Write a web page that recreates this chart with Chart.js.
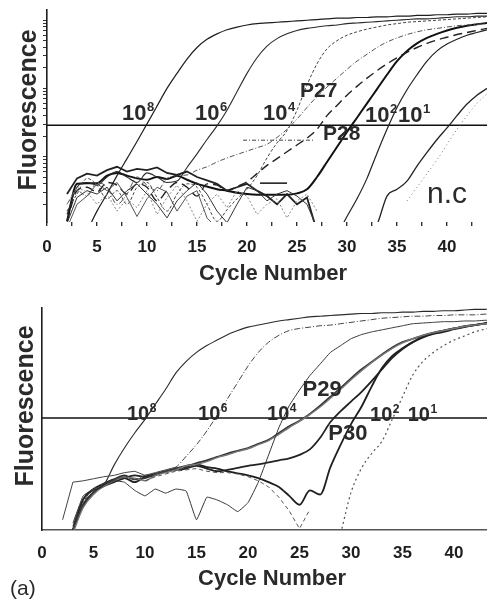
<!DOCTYPE html>
<html>
<head>
<meta charset="utf-8">
<script src="https://cdn.jsdelivr.net/npm/chart.js@4.4.1/dist/chart.umd.min.js"></script>
<style>
  html, body { margin: 0; padding: 0; background: #fff; }
  #wrap { position: relative; width: 487px; height: 601px; overflow: hidden; }
  .panel { position: absolute; left: 0; }
</style>
</head>
<body>
<div id="wrap">
  <div class="panel" style="top:0"><canvas id="topChart" width="487" height="300"></canvas></div>
  <div class="panel" style="top:300px"><canvas id="botChart" width="487" height="301"></canvas></div>
</div>
<script>
// ---------- DATA (y values are log10 fluorescence) ----------
const cycles = [1,2,3,4,5,6,7,8,9,10,11,12,13,14,15,16,17,18,19,20,21,22,23,24,25,26,27,28,29,30,31,32,33,34,35,36,37,38,39,40,41,42,43,44];
const xTickLabels = ['0','5','10','15','20','25','30','35','40'];

// Top panel
const topStd1e8 = [null,null,null,-0.1,0.2,0.45,0.72,0.97,1.22,1.48, 1.74,2.0,2.22,2.43,2.6,2.72,2.8,2.86,2.9,2.93, 2.95,2.96,2.97,2.98,2.99,3.0,3.01,3.02,3.03,3.03, 3.04,3.04,3.05,3.05,3.06,3.06,3.07,3.07,3.08,3.08, 3.09,3.09,3.1,3.1];
const topStd1e6 = [null,0.15,0.55,0.62,0.58,0.7,0.78,0.7,0.62,0.76, 0.7,0.62,0.64,0.84,1.04,1.25,1.45,1.68,1.95,2.22, 2.45,2.62,2.73,2.8,2.85,2.88,2.9,2.92,2.93,2.95, 2.96,2.97,2.98,2.99,3.0,3.01,3.02,3.02,3.03,3.04, 3.05,3.05,3.06,3.06];
const topStd1e4 = [null,0.2,0.45,0.68,0.58,0.38,0.5,0.3,0.55,0.62, 0.4,0.2,0.45,0.6,0.55,0.3,0.05,0.22,0.38,0.52, 0.72,0.98,1.2,1.38,1.68,2.05,2.36,2.58,2.7,2.78, 2.83,2.87,2.9,2.93,2.95,2.97,2.98,2.99,3.0,3.01, 3.02,3.03,3.04,3.05];
const topStd1e4b = [null,0.3,0.5,0.42,0.62,0.55,0.3,0.45,0.7,0.58, 0.5,0.68,0.72,0.73,0.8,0.85,0.92,0.98,1.03,1.08, 1.13,1.18,1.28,1.4,1.55,1.72,1.88,2.02,2.15,2.28, 2.4,2.5,2.6,2.68,2.74,2.79,2.83,2.86,2.88,2.9, 2.92,2.93,2.94,2.95];
const topP27 = [null,0.05,0.5,0.55,0.48,0.62,0.58,0.45,0.6,0.55, 0.35,0.5,0.62,0.55,0.42,0.6,0.58,0.5,0.56,0.63, 0.75,0.87,0.97,1.07,1.17,1.27,1.4,1.6,1.75,1.9, 2.03,2.15,2.26,2.36,2.45,2.53,2.6,2.66,2.71,2.75, 2.79,2.82,2.85,2.88];
const topP28 = [null,0.05,0.6,0.61,0.61,0.72,0.76,0.72,0.68,0.66, 0.7,0.67,0.72,0.66,0.6,0.56,0.52,0.5,0.47,0.45, 0.44,0.44,0.44,0.44,0.46,0.52,0.7,0.92,1.14,1.36, 1.57,1.78,1.99,2.2,2.4,2.55,2.66,2.74,2.8,2.85, 2.89,2.92,2.94,2.96];
const topStd1e2 = [null,null,null,null,null,null,null,null,null,null, null,null,null,null,null,null,null,null,null,null, null,null,null,null,null,null,null,null,-0.15,0.12, 0.38,0.68,1.05,1.4,1.72,1.98,2.2,2.4,2.55,2.65, 2.72,2.78,2.82,2.86];
const topStd1e1 = [null,null,null,null,null,null,null,null,null,null, null,null,null,null,null,null,null,null,null,null, null,null,null,null,null,null,null,null,null,null, null,-0.2,0.0,0.42,0.52,0.64,0.86,1.06,1.25,1.42, 1.6,1.77,1.9,2.0];
const topStd1e1b = [null,null,null,null,null,null,null,null,null,null, null,null,null,null,null,null,null,null,null,null, null,null,null,null,null,null,null,null,null,null, null,null,null,null,null,0.35,0.55,0.75,0.95,1.18, 1.4,1.6,1.78,1.92];
const topNc1 = [null,0.02,0.4,0.5,0.45,0.55,0.35,0.5,0.6,0.45, 0.3,0.1,0.35,0.5,0.62,0.45,0.2,0.03,0.3,0.55, 0.5,0.35,0.45,0.5,0.42,0.3,-0.05];
const topNc2 = [null,0.3,0.55,0.48,0.3,0.45,0.2,0.38,0.25,0.5, 0.15,0.4,0.58,0.35,0.05,0.3,0.45,0.25,0.5,0.42, 0.15,0.3,0.38,0.1,0.35,0.45,0.2];
const topNc3 = [null,0.45,0.68,0.75,0.72,0.8,0.85,0.78,0.82,0.8, 0.84,0.76,0.73,0.78,0.7,0.65,0.6,0.5,0.55,0.6, 0.5,0.42,0.3,0.45,0.3,0.4,-0.1];
const topNc4 = [null,-0.05,0.3,0.42,0.6,0.5,0.62,0.4,0.12,0.38, 0.55,0.48,0.2,0.42,0.5,0.1,-0.05];
const topMarkDashX = [19.6, 26.6];
const topMarkDashY = [1.24, 1.24];
const topMarkSolidX = [21.3, 24.0];
const topMarkSolidY = [0.61, 0.61];
const thresholdTop = 1.46;

// Bottom panel
const botStd1e8 = [null,null,0.05,0.45,0.58,0.66,0.95,1.2,1.42,1.62, 1.84,2.06,2.3,2.47,2.6,2.7,2.78,2.86,2.92,2.97, 3.0,3.03,3.06,3.08,3.1,3.12,3.13,3.14,3.15,3.16, 3.17,3.17,3.18,3.18,3.19,3.19,3.2,3.2,3.21,3.21, 3.22,3.23,3.23,3.24];
const botStd1e6 = [null,null,0.0,0.4,0.6,0.68,0.72,0.78,0.74,0.8, 0.82,0.86,0.92,1.08,1.25,1.45,1.68,1.92,2.16,2.4, 2.6,2.75,2.85,2.92,2.95,2.97,2.99,3.0,3.02,3.04, 3.06,3.08,3.1,3.11,3.12,3.13,3.13,3.14,3.14,3.15, 3.15,3.15,3.16,3.16];
const botStd1e4 = [null,null,0.1,0.5,0.6,0.66,0.72,0.7,0.58,0.5, 0.6,0.54,0.6,0.57,0.15,0.48,0.44,0.37,0.27,0.4, 0.7,1.1,1.5,1.82,2.05,2.26,2.43,2.6,2.7,2.8, 2.86,2.9,2.93,2.96,2.99,3.02,3.03,3.04,3.05,3.05, 3.06,3.06,3.07,3.07];
const botP29 = [null,null,0.0,0.38,0.55,0.66,0.74,0.8,0.74,0.76, 0.82,0.86,0.9,0.92,0.98,1.02,1.07,1.12,1.16,1.2, 1.26,1.32,1.42,1.52,1.6,1.7,1.82,1.95,2.08,2.22, 2.35,2.46,2.57,2.67,2.75,2.8,2.85,2.89,2.92,2.95, 2.98,3.0,3.02,3.04];
const botP29b = [null,null,-0.05,0.33,0.52,0.64,0.72,0.77,0.76,0.72, 0.8,0.84,0.88,0.94,0.96,1.0,1.06,1.1,1.15,1.19, 1.25,1.31,1.4,1.5,1.59,1.69,1.8,1.93,2.06,2.2, 2.33,2.45,2.56,2.66,2.74,2.8,2.85,2.89,2.92,2.95, 2.98,3.0,3.02,3.04];
const botP30 = [null,null,0.0,0.35,0.55,0.64,0.7,0.76,0.8,0.78, 0.8,0.86,0.88,0.9,0.94,0.9,0.86,0.88,0.91,0.94, 0.96,0.99,1.02,1.05,1.1,1.18,1.35,1.58,1.74,1.88, 2.02,2.18,2.35,2.52,2.65,2.75,2.82,2.87,2.9,2.94, 2.97,3.0,3.02,3.04];
const botStd1e2 = [null,null,0.0,0.45,0.6,0.68,0.74,0.76,0.7,0.78, 0.82,0.85,0.9,0.94,0.96,0.92,0.9,0.86,0.83,0.8, 0.76,0.7,0.63,0.5,0.37,0.58,0.52,0.92,1.25,1.55, 1.8,2.1,2.37,2.55,2.66,2.75,2.83,2.88,2.92,2.95, 2.98,3.0,3.03,3.05];
const botStd1e1 = [null,null,null,null,null,null,null,null,null,null, null,null,null,null,null,null,null,null,null,null, null,null,null,null,null,null,null,null,-0.05,0.55, 0.9,1.12,1.3,1.62,1.95,2.27,2.47,2.6,2.7,2.78, 2.84,2.9,2.94,2.97];
const botNcDash = [null,null,null,null,null,null,null,null,null,0.72, 0.78,0.82,0.86,0.88,0.9,0.86,0.84,0.84,0.82,0.78, 0.72,0.63,0.48,0.28,0.02,0.3];
const botNcThin = [null,0.15,0.7,0.72,0.75,0.78,0.8,0.84,0.86,0.8, 0.84,0.88,0.92];
const thresholdBottom = 1.64;

// ---------- helpers ----------
const FONT = '"Liberation Sans", Arial, Helvetica, sans-serif';
Chart.defaults.font.family = FONT;

function curve(values, style) {
  return Object.assign({
    data: cycles.map((c, i) => ({ x: c, y: values[i] ?? null })),
    borderColor: '#222', borderWidth: 1.1, pointRadius: 0, fill: false,
    cubicInterpolationMode: 'monotone', spanGaps: false
  }, style);
}
function segment(xs, ys, style) {
  return Object.assign({
    data: xs.map((x, i) => ({ x: x, y: ys[i] })),
    borderColor: '#222', borderWidth: 1.2, pointRadius: 0, fill: false, tension: 0
  }, style);
}
function logTicks(min, max) {
  const t = [];
  for (let e = 0; e < 4; e++) for (let k = 1; k < 10; k++) {
    const v = e + Math.log10(k);
    if (v >= min && v <= max) t.push({ value: v });
  }
  return t;
}
function tickLabel(v) {
  const k = Math.round(v / 5);
  return (Math.abs(v - 5 * k) < 1e-6 && k >= 0 && k < xTickLabels.length) ? xTickLabels[k] : '';
}

const textPlugin = {
  id: 'txt',
  afterDraw(chart, args, o) {
    const ctx = chart.ctx, xs = chart.scales.x, ys = chart.scales.y;
    ctx.save();
    ctx.fillStyle = '#2a2a2a';
    ctx.textAlign = 'left';
    ctx.textBaseline = 'alphabetic';
    for (const l of o.curveLabels) {
      const px = xs.getPixelForValue(l.c), py = ys.getPixelForValue(l.v);
      ctx.font = (l.weight || 'bold') + ' ' + l.size + 'px ' + FONT;
      ctx.fillText(l.text, px, py);
      if (l.sup) {
        const w = ctx.measureText(l.text).width;
        ctx.font = 'bold ' + Math.round(l.size * 0.6) + 'px ' + FONT;
        ctx.fillText(l.sup, px + w + 0.5, py - l.size * 0.38);
      }
    }
    for (const t of o.titles) {
      ctx.save();
      ctx.translate(t.x, t.y);
      if (t.rot) ctx.rotate(t.rot);
      ctx.font = t.weight + ' ' + t.size + 'px ' + FONT;
      ctx.textAlign = t.align;
      ctx.textBaseline = 'alphabetic';
      ctx.fillText(t.text, 0, 0);
      ctx.restore();
    }
    ctx.restore();
  }
};

function makeOptions(c) {
  return {
    responsive: false, animation: false, devicePixelRatio: 1,
    layout: { padding: { top: c.padTop, right: 0, left: 0, bottom: 0 } },
    plugins: { legend: { display: false }, tooltip: { enabled: false }, txt: c.txt },
    scales: {
      x: {
        type: 'linear', min: 0, max: c.xMax,
        afterFit: s => { s.height = c.xH; s.paddingLeft = 0; s.paddingRight = 0; },
        ticks: { stepSize: c.xStep, autoSkip: false, includeBounds: false, maxRotation: 0, padding: c.tickPad,
                 color: '#1e1e1e', font: { size: 17, weight: 'bold', family: FONT }, callback: tickLabel },
        grid: { display: true, drawOnChartArea: false, drawTicks: c.xTicks, tickLength: 4, color: '#333', lineWidth: 1.4 },
        border: c.xBorder
      },
      y: {
        type: 'linear', min: c.yMin, max: c.yMax,
        afterFit: s => { s.width = c.yW; s.paddingTop = 0; s.paddingBottom = 0; },
        afterBuildTicks: s => { s.ticks = logTicks(c.yMin, c.yMax); },
        ticks: { display: false },
        grid: { display: true, drawOnChartArea: false, drawTicks: c.yTicks, tickLength: 4, color: '#333', lineWidth: 1 },
        border: { display: true, color: '#1e1e1e', width: 1.6 }
      }
    }
  };
}

// ---------- top chart ----------
new Chart(document.getElementById('topChart'), {
  type: 'line',
  data: { datasets: [
    curve(topNc2, { borderColor: '#888', borderWidth: 1, borderDash: [2, 2], cubicInterpolationMode: 'default', tension: 0 }),
    curve(topNc4, { borderColor: '#555', borderWidth: 1, cubicInterpolationMode: 'default', tension: 0 }),
    curve(topNc1, { borderColor: '#333', borderWidth: 1, cubicInterpolationMode: 'default', tension: 0 }),
    curve(topNc3, { borderColor: '#222', borderWidth: 1.8, cubicInterpolationMode: 'default', tension: 0 }),
    segment(topMarkDashX, topMarkDashY, { borderColor: '#444', borderWidth: 1, borderDash: [4, 2, 1, 2] }),
    segment(topMarkSolidX, topMarkSolidY, { borderColor: '#222', borderWidth: 1.6 }),
    curve(topStd1e8, { borderColor: '#1e1e1e', borderWidth: 1.2 }),
    curve(topStd1e6, { borderColor: '#2a2a2a', borderWidth: 1.1 }),
    curve(topStd1e4, { borderColor: '#444', borderWidth: 1, borderDash: [3, 2] }),
    curve(topStd1e4b, { borderColor: '#555', borderWidth: 1, borderDash: [5, 2, 1, 2] }),
    curve(topP27, { borderColor: '#222', borderWidth: 1.4, borderDash: [9, 5] }),
    curve(topP28, { borderColor: '#111', borderWidth: 2 }),
    curve(topStd1e2, { borderColor: '#222', borderWidth: 1.2 }),
    curve(topStd1e1, { borderColor: '#222', borderWidth: 1.3 }),
    curve(topStd1e1b, { borderColor: '#777', borderWidth: 1, borderDash: [1, 3] }),
    segment([0, 44], [thresholdTop, thresholdTop], { borderColor: '#111', borderWidth: 1.5 })
  ] },
  options: makeOptions({
    padTop: 10, xMax: 44, xH: 78, xStep: 2.5, tickPad: 11, xTicks: true,
    xBorder: { display: false },
    yMin: 0.04, yMax: 3.15, yW: 47, yTicks: true,
    txt: {
      curveLabels: [
        { text: '10', sup: '8', c: 7.5, v: 1.54, size: 22 },
        { text: '10', sup: '6', c: 14.8, v: 1.54, size: 22 },
        { text: '10', sup: '4', c: 21.6, v: 1.54, size: 22 },
        { text: '10', sup: '2', c: 31.8, v: 1.51, size: 22 },
        { text: '10', sup: '1', c: 35.1, v: 1.51, size: 22 },
        { text: 'P27', c: 25.3, v: 1.87, size: 21 },
        { text: 'P28', c: 27.6, v: 1.24, size: 21 },
        { text: 'n.c', c: 38.0, v: 0.32, size: 30, weight: 'normal' }
      ],
      titles: [
        { text: 'Fluorescence', x: 36, y: 110, rot: -Math.PI / 2, size: 25, weight: 'bold', align: 'center' },
        { text: 'Cycle Number', x: 273, y: 280, size: 22, weight: 'bold', align: 'center' }
      ]
    }
  }),
  plugins: [textPlugin]
});

// ---------- bottom chart ----------
new Chart(document.getElementById('botChart'), {
  type: 'line',
  data: { datasets: [
    curve(botNcThin, { borderColor: '#444', borderWidth: 1, cubicInterpolationMode: 'default', tension: 0 }),
    curve(botNcDash, { borderColor: '#555', borderWidth: 1, borderDash: [4, 3], cubicInterpolationMode: 'default', tension: 0 }),
    curve(botStd1e8, { borderColor: '#2a2a2a', borderWidth: 1.1 }),
    curve(botStd1e6, { borderColor: '#444', borderWidth: 1, borderDash: [6, 2, 1, 2] }),
    curve(botStd1e4, { borderColor: '#333', borderWidth: 1, cubicInterpolationMode: 'default', tension: 0.1 }),
    curve(botP29b, { borderColor: '#777', borderWidth: 1.4 }),
    curve(botP29, { borderColor: '#333', borderWidth: 1.8 }),
    curve(botP30, { borderColor: '#222', borderWidth: 1.8 }),
    curve(botStd1e2, { borderColor: '#1e1e1e', borderWidth: 1.8 }),
    curve(botStd1e1, { borderColor: '#555', borderWidth: 1.2, borderDash: [2, 3] }),
    segment([0, 44], [thresholdBottom, thresholdBottom], { borderColor: '#111', borderWidth: 1.3 })
  ] },
  options: makeOptions({
    padTop: 8, xMax: 43.2, xH: 71, xStep: 5, tickPad: 13, xTicks: false,
    xBorder: { display: true, color: '#555', width: 1.5, dash: [2, 2] },
    yMin: 0, yMax: 3.25, yW: 42, yTicks: false,
    txt: {
      curveLabels: [
        { text: '10', sup: '8', c: 8.25, v: 1.61, size: 20 },
        { text: '10', sup: '6', c: 15.15, v: 1.61, size: 20 },
        { text: '10', sup: '4', c: 21.85, v: 1.61, size: 20 },
        { text: '10', sup: '2', c: 31.85, v: 1.6, size: 20 },
        { text: '10', sup: '1', c: 35.5, v: 1.6, size: 20 },
        { text: 'P29', c: 25.3, v: 1.96, size: 22 },
        { text: 'P30', c: 27.8, v: 1.32, size: 22 }
      ],
      titles: [
        { text: 'Fluorescence', x: 33, y: 106, rot: -Math.PI / 2, size: 25, weight: 'bold', align: 'center' },
        { text: 'Cycle Number', x: 272, y: 285, size: 22, weight: 'bold', align: 'center' },
        { text: '(a)', x: 10, y: 295, size: 21, weight: 'normal', align: 'left' }
      ]
    }
  }),
  plugins: [textPlugin]
});
</script>
</body>
</html>
